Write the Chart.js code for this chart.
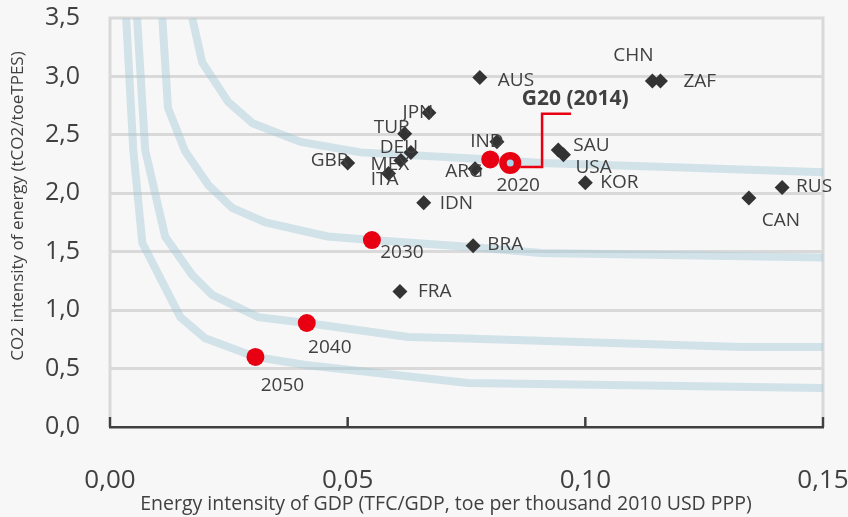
<!DOCTYPE html>
<html>
<head>
<meta charset="utf-8">
<script src="https://cdn.jsdelivr.net/npm/chart.js@4.4.0/dist/chart.umd.min.js"></script>
<style>
  html, body { margin: 0; padding: 0; background: #f7f7f7; }
  #wrap { width: 848px; height: 517px; }
</style>
</head>
<body>
<div id="wrap"><canvas id="myChart"></canvas></div>
<script>
// G20 countries, 2014
const countries = ['CHN', 'ZAF', 'AUS', 'JPN', 'TUR', 'DEU', 'MEX', 'ITA', 'GBR', 'IND', 'ARG', 'IDN', 'BRA', 'FRA', 'SAU', 'USA', 'KOR', 'RUS', 'CAN'];
const energyIntensity = [0.1141, 0.1158, 0.0778, 0.0671, 0.0620, 0.0633, 0.0612, 0.0586, 0.0500, 0.0814, 0.0768, 0.0660, 0.0764, 0.0610, 0.0943, 0.0954, 0.1000, 0.1414, 0.1344];
const co2Intensity = [2.96, 2.96, 2.99, 2.69, 2.51, 2.35, 2.28, 2.17, 2.26, 2.44, 2.21, 1.92, 1.55, 1.16, 2.37, 2.33, 2.09, 2.05, 1.96];

// G20 pathway
const pathLabels = ['G20 (2014)', '2020', '2030', '2040', '2050'];
const pathX = [0.0800, 0.0842, 0.0551, 0.0414, 0.0306];
const pathY = [2.29, 2.26, 1.60, 0.89, 0.60];

// leader line for the G20 (2014) label
const leaderX = [0.0863, 0.0909, 0.0909, 0.0970];
const leaderY = [2.226, 2.226, 2.68, 2.68];

// iso-emission curves
const curve2020X = [0.0173, 0.0194, 0.0249, 0.0300, 0.0401, 0.0527, 0.0800, 0.0907, 0.1203, 0.1500];
const curve2020Y = [3.50, 3.12, 2.78, 2.60, 2.44, 2.35, 2.29, 2.26, 2.22, 2.18];
const curve2030X = [0.0110, 0.0122, 0.0158, 0.0207, 0.0257, 0.0327, 0.0458, 0.0551, 0.0759, 0.0907, 0.1500];
const curve2030Y = [3.50, 2.73, 2.36, 2.07, 1.875, 1.75, 1.63, 1.60, 1.54, 1.49, 1.45];
const curve2040X = [0.0057, 0.0074, 0.0116, 0.0173, 0.0215, 0.0312, 0.0414, 0.0627, 0.0732, 0.1329, 0.1500];
const curve2040Y = [3.50, 2.37, 1.63, 1.30, 1.13, 0.94, 0.89, 0.77, 0.76, 0.685, 0.685];
const curve2050X = [0.0034, 0.0049, 0.0068, 0.0148, 0.0200, 0.0306, 0.0411, 0.0753, 0.1500];
const curve2050Y = [3.50, 2.37, 1.575, 0.94, 0.76, 0.60, 0.53, 0.377, 0.334];

const xTicks = [0, 0.05, 0.10, 0.15];
const yTicks = [0, 0.5, 1.0, 1.5, 2.0, 2.5, 3.0, 3.5];

const xTitle = 'Energy intensity of GDP (TFC/GDP, toe per thousand 2010 USD PPP)';
const yTitle = 'CO2 intensity of energy (tCO2/toeTPES)';

// label offsets in pixels [dx, dy, align]
const labelPos = {
  CHN: [-19, -26, 'center'], ZAF: [23, 0, 'left'], AUS: [18, 3, 'left'],
  JPN: [-11, 0, 'center'], TUR: [-13, -6, 'center'], DEU: [-12, -5, 'center'],
  MEX: [-11, 4, 'center'], ITA: [-4, 6, 'center'], GBR: [-18, -2, 'center'],
  IND: [-10, 0, 'center'], ARG: [-11, 3, 'center'], IDN: [16, 1, 'left'],
  BRA: [14, -1, 'left'], FRA: [18, 0, 'left'], SAU: [15, -4, 'left'],
  USA: [12, 13, 'left'], KOR: [15, 0, 'left'], RUS: [14, -1, 'left'],
  CAN: [32, 23, 'center'],
  'G20 (2014)': [85, -60, 'center'], '2020': [8, 23, 'center'],
  '2030': [30, 13, 'center'], '2040': [23, 25, 'center'], '2050': [27, 29, 'center']
};

function pts(xs, ys) {
  return xs.map((v, i) => ({x: v, y: ys[i]}));
}

const red = 'rgb(232,0,18)';
const curveColor = 'rgba(165,200,215,0.45)';
const textColor = '#404040';
const fontFamily = "'Open Sans', sans-serif";

function curve(xs, ys) {
  return {
    data: pts(xs, ys), showLine: true, borderColor: curveColor, borderWidth: 8,
    pointRadius: 0, fill: false, clip: 0, borderJoinStyle: 'miter'
  };
}

// frame, inward ticks, axis titles and text labels
const decor = {
  id: 'decor',
  beforeDatasetsDraw(chart) {
    const {ctx, chartArea: a, scales: {x}} = chart;
    ctx.save();
    ctx.strokeStyle = '#d9d9d9';
    ctx.lineWidth = 3;
    ctx.beginPath();
    ctx.moveTo(a.left, a.bottom - 10);
    ctx.lineTo(a.left, a.top);
    ctx.lineTo(a.right, a.top);
    ctx.lineTo(a.right, a.bottom - 10);
    ctx.stroke();
    ctx.strokeStyle = textColor;
    ctx.lineWidth = 2.5;
    xTicks.forEach(v => {
      const px = x.getPixelForValue(v);
      ctx.beginPath();
      ctx.moveTo(px, a.bottom);
      ctx.lineTo(px, a.bottom - 10);
      ctx.stroke();
    });
    // axis titles, centred where the original puts them
    ctx.fillStyle = textColor;
    ctx.textAlign = 'center';
    ctx.textBaseline = 'middle';
    ctx.font = '19.5px ' + fontFamily;
    ctx.fillText(xTitle, 446, 504);
    ctx.translate(18, 206);
    ctx.rotate(-Math.PI / 2);
    ctx.font = '17px ' + fontFamily;
    ctx.fillText(yTitle, 0, 0);
    ctx.restore();
  },
  afterDatasetsDraw(chart) {
    const {ctx, scales: {x, y}} = chart;
    ctx.save();
    ctx.fillStyle = textColor;
    ctx.textBaseline = 'middle';
    const put = (name, vx, vy, bold) => {
      const p = labelPos[name];
      ctx.font = (bold ? 'bold 21px ' : '19px ') + fontFamily;
      ctx.textAlign = p[2];
      ctx.fillText(name, x.getPixelForValue(vx) + p[0], y.getPixelForValue(vy) + p[1]);
    };
    countries.forEach((c, i) => put(c, energyIntensity[i], co2Intensity[i], false));
    pathLabels.forEach((c, i) => put(c, pathX[i], pathY[i], i === 0));
    ctx.restore();
  }
};

var canvas = document.getElementById('myChart');
canvas.width = 848;
canvas.height = 517;

var myChart = new Chart(canvas, {
  type: 'scatter',
  data: {
    datasets: [
      {
        data: pts(pathX, pathY),
        pointStyle: 'circle',
        pointRadius: [9, 7.25, 9, 9, 9],
        pointBackgroundColor: [red, '#a9d4ec', red, red, red],
        pointBorderColor: red,
        pointBorderWidth: [0, 7.5, 0, 0, 0]
      },
      {
        data: pts(leaderX, leaderY), showLine: true, borderColor: red, borderWidth: 2.5,
        pointRadius: 0, fill: false
      },
      {
        data: pts(energyIntensity, co2Intensity),
        pointStyle: 'rectRot', pointRadius: 7.5,
        pointBackgroundColor: '#333333', pointBorderWidth: 0
      },
      curve(curve2020X, curve2020Y),
      curve(curve2030X, curve2030Y),
      curve(curve2040X, curve2040Y),
      curve(curve2050X, curve2050Y)
    ]
  },
  options: {
    responsive: false,
    animation: false,
    layout: { padding: { top: 18, right: 25, left: 0, bottom: 0 } },
    plugins: { legend: { display: false }, tooltip: { enabled: false } },
    scales: {
      x: {
        type: 'linear', min: 0, max: 0.15,
        afterBuildTicks: s => { s.ticks = xTicks.map(v => ({value: v})); },
        afterFit: s => { s.height = 90; s.paddingLeft = 0; s.paddingRight = 0; },
        ticks: {
          color: textColor, padding: 38,
          font: { family: fontFamily, size: 26 },
          callback: v => v.toFixed(2).replace('.', ',')
        },
        grid: { drawOnChartArea: false, drawTicks: false },
        border: { color: textColor, width: 2.5 },
        title: { display: false }
      },
      y: {
        type: 'linear', min: 0, max: 3.5,
        afterBuildTicks: s => { s.ticks = yTicks.map(v => ({value: v})); },
        afterFit: s => { s.width = 110; s.paddingTop = 0; s.paddingBottom = 0; },
        ticks: {
          color: textColor, padding: 30,
          font: { family: fontFamily, size: 25 },
          callback: v => v.toFixed(1).replace('.', ',')
        },
        grid: {
          drawTicks: false, lineWidth: 3,
          color: c => (c.tick && (c.tick.value === 0 || c.tick.value === 3.5)) ? 'rgba(0,0,0,0)' : '#d9d9d9'
        },
        border: { display: false },
        title: { display: false }
      }
    }
  },
  plugins: [decor]
});
</script>
</body>
</html>
